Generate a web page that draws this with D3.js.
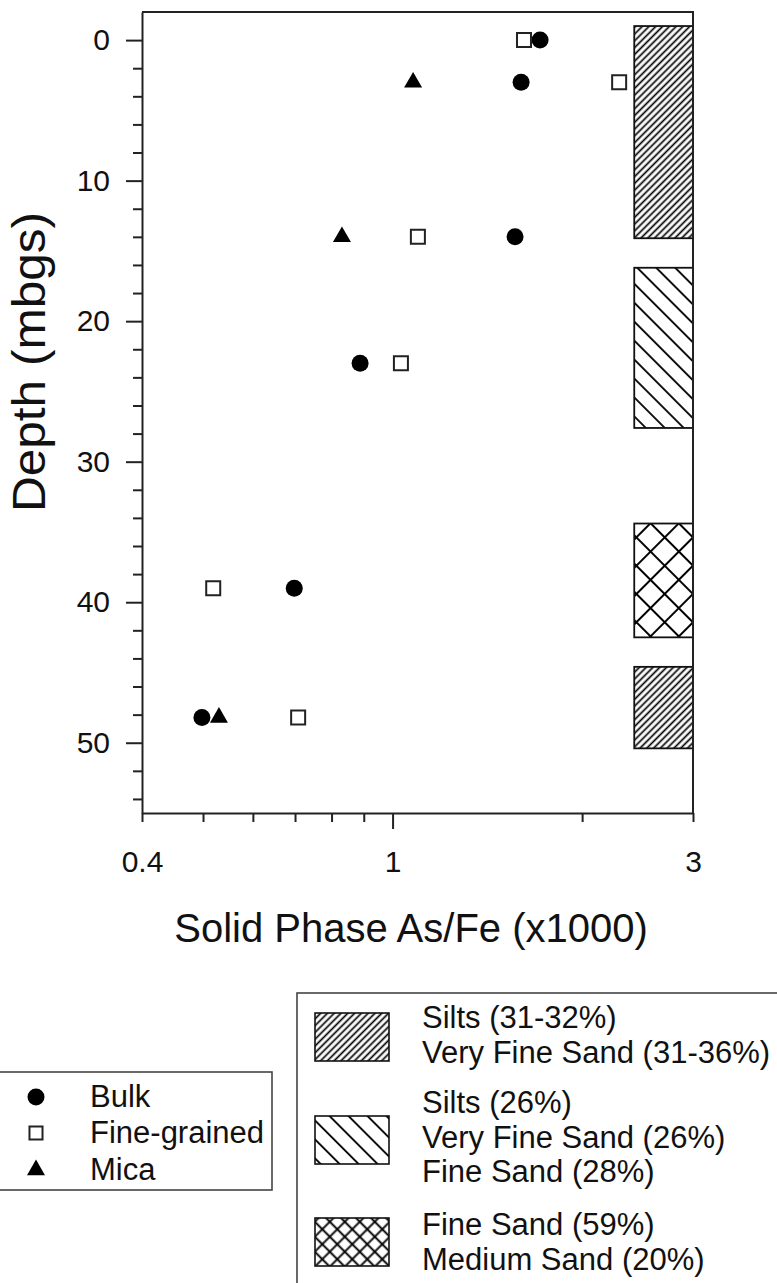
<!DOCTYPE html>
<html>
<head>
<meta charset="utf-8">
<script src="https://cdn.jsdelivr.net/npm/d3@7"></script>
<style>
  body { margin: 0; background: #fff; }
  text { font-family: "Liberation Sans", Arial, sans-serif; fill: #111; }
</style>
</head>
<body>
<svg id="chart" width="777" height="1283"></svg>
<script>
// sample depths (mbgs) and solid phase As/Fe (x1000)
var bulkDepth = [0, 3, 14, 23, 39, 48.2];
var bulkVal   = [1.715, 1.60, 1.565, 0.888, 0.698, 0.498];
var fineDepth = [0, 3, 14, 23, 39, 48.2];
var fineVal   = [1.617, 2.29, 1.097, 1.031, 0.519, 0.708];
var micaDepth = [3, 14, 48.2];
var micaVal   = [1.078, 0.831, 0.530];

// grain size layers drawn on the right
var layerTop    = [-1, 16.2, 34.4, 44.6];
var layerBottom = [14.1, 27.6, 42.5, 50.4];
var layerType   = ["a", "b", "c", "a"];
var layerStart  = 2.42;

var yMajor = [0, 10, 20, 30, 40, 50];
var yMinor = [2, 4, 6, 8, 12, 14, 16, 18, 22, 24, 26, 28, 32, 34, 36, 38, 42, 44, 46, 48, 52, 54];
var xLabels = [0.4, 1, 3];
var xShort = [0.4, 0.5, 0.6, 0.7, 0.8, 0.9, 2, 3];
var xLong = [1];

var seriesNames = ["Bulk", "Fine-grained", "Mica"];
var layerLabels = [
  ["Silts (31-32%)", "Very Fine Sand (31-36%)"],
  ["Silts (26%)", "Very Fine Sand (26%)", "Fine Sand (28%)"],
  ["Fine Sand (59%)", "Medium Sand (20%)"]
];

var svg = d3.select("#chart");
var plotLeft = 142, plotTop = 12, plotRight = 693, plotBottom = 813;

var x = d3.scaleLog().domain([0.4, 3]).range([plotLeft, plotRight]);
var y = d3.scaleLinear().domain([-2, 55]).range([plotTop, plotBottom]);

// hatch patterns
var defs = svg.append("defs");
function hatch(id, p, cross, angle, sw) {
  var pat = defs.append("pattern")
    .attr("id", id)
    .attr("patternUnits", "userSpaceOnUse")
    .attr("width", p).attr("height", p)
    .attr("patternTransform", "rotate(" + angle + ")");
  pat.append("line").attr("x1", p / 2).attr("y1", -1).attr("x2", p / 2).attr("y2", p + 1)
    .attr("stroke", "#000").attr("stroke-width", sw);
  if (cross) {
    pat.append("line").attr("x1", -1).attr("y1", p / 2).attr("x2", p + 1).attr("y2", p / 2)
      .attr("stroke", "#000").attr("stroke-width", sw);
  }
}
hatch("hatch-a", 4.8, false, 45, 1.7);
hatch("hatch-b", 13.4, false, -45, 1.8);
hatch("hatch-c", 20, true, 45, 2);
hatch("hatch-c-small", 10.6, true, 45, 1.9);

// layer bars
svg.append("g").selectAll("rect")
  .data(d3.range(layerTop.length))
  .enter().append("rect")
  .attr("x", x(layerStart))
  .attr("y", function(i) { return y(layerTop[i]); })
  .attr("width", x(3) - x(layerStart))
  .attr("height", function(i) { return y(layerBottom[i]) - y(layerTop[i]); })
  .attr("fill", function(i) { return "url(#hatch-" + layerType[i] + ")"; })
  .attr("stroke", "#111")
  .attr("stroke-width", 1.8);

// frame top and right
svg.append("path")
  .attr("d", "M" + plotLeft + "," + plotTop + "H" + plotRight + "V" + plotBottom)
  .attr("fill", "none").attr("stroke", "#222").attr("stroke-width", 2);

// y axis
var yAxis = svg.append("g").attr("transform", "translate(" + plotLeft + ",0)")
  .call(d3.axisLeft(y).tickValues(yMajor).tickSize(16).tickSizeOuter(0).tickPadding(16));
yAxis.append("g").call(d3.axisLeft(y).tickValues(yMinor).tickSize(9).tickFormat(""))
  .select(".domain").remove();
yAxis.selectAll("text").style("font-size", "30px").attr("fill", "#111");
yAxis.selectAll("line, path").attr("stroke", "#222").attr("stroke-width", 2);

// x axis
var xAxis = svg.append("g").attr("transform", "translate(0," + plotBottom + ")")
  .call(d3.axisBottom(x).tickValues(xLabels).tickSize(0).tickSizeOuter(0).tickPadding(38)
    .tickFormat(d3.format("")));
xAxis.append("g").call(d3.axisBottom(x).tickValues(xShort).tickSize(9).tickFormat(""))
  .select(".domain").remove();
xAxis.append("g").call(d3.axisBottom(x).tickValues(xLong).tickSize(16).tickFormat(""))
  .select(".domain").remove();
xAxis.selectAll("text").style("font-size", "30px").attr("fill", "#111");
xAxis.selectAll("line, path").attr("stroke", "#222").attr("stroke-width", 2);

// axis titles
svg.append("text")
  .attr("x", 411).attr("y", 942)
  .attr("text-anchor", "middle")
  .style("font-size", "40px")
  .text("Solid Phase As/Fe (x1000)");
svg.append("text")
  .attr("transform", "translate(45,362) rotate(-90)")
  .attr("text-anchor", "middle")
  .attr("textLength", 300).attr("lengthAdjust", "spacingAndGlyphs")
  .style("font-size", "46px")
  .text("Depth (mbgs)");

// markers
var circle = d3.symbol().type(d3.symbolCircle).size(227);
var square = d3.symbol().type(d3.symbolSquare).size(196);
var triangle = d3.symbol().type(d3.symbolTriangle).size(140);

var pts = svg.append("g");
pts.selectAll(".bulk").data(bulkVal).enter().append("path")
  .attr("class", "bulk")
  .attr("d", circle)
  .attr("transform", function(d, i) { return "translate(" + x(d) + "," + y(bulkDepth[i]) + ")"; })
  .attr("fill", "#000");
pts.selectAll(".fine").data(fineVal).enter().append("path")
  .attr("class", "fine")
  .attr("d", square)
  .attr("transform", function(d, i) { return "translate(" + x(d) + "," + y(fineDepth[i]) + ")"; })
  .attr("fill", "#fff").attr("stroke", "#222").attr("stroke-width", 2);
pts.selectAll(".mica").data(micaVal).enter().append("path")
  .attr("class", "mica")
  .attr("d", triangle)
  .attr("transform", function(d, i) { return "translate(" + x(d) + "," + y(micaDepth[i]) + ")"; })
  .attr("fill", "#000");

// series legend
var leg1 = svg.append("g");
leg1.append("rect").attr("x", -2).attr("y", 1072).attr("width", 274).attr("height", 118)
  .attr("fill", "none").attr("stroke", "#444").attr("stroke-width", 1.6);
var legSymbols = [circle, d3.symbol().type(d3.symbolSquare).size(170), triangle];
var legRowY = [1097, 1133, 1170];
leg1.selectAll(".sym").data(seriesNames).enter().append("path")
  .attr("class", "sym")
  .attr("d", function(d, i) { return legSymbols[i](); })
  .attr("transform", function(d, i) { return "translate(36," + legRowY[i] + ")"; })
  .attr("fill", function(d, i) { return i === 1 ? "#fff" : "#000"; })
  .attr("stroke", function(d, i) { return i === 1 ? "#222" : "none"; })
  .attr("stroke-width", 2);
leg1.selectAll(".lab").data(seriesNames).enter().append("text")
  .attr("class", "lab")
  .attr("x", 90)
  .attr("y", function(d, i) { return legRowY[i] + 10; })
  .style("font-size", "31px")
  .text(function(d) { return d; });

// layer legend
var leg2 = svg.append("g");
leg2.append("rect").attr("x", 297).attr("y", 993).attr("width", 520).attr("height", 320)
  .attr("fill", "none").attr("stroke", "#444").attr("stroke-width", 1.6);
var swatchY = [1013, 1116, 1218];
var swatchFill = ["url(#hatch-a)", "url(#hatch-b)", "url(#hatch-c-small)"];
var firstBase = [1028, 1113, 1235];
leg2.selectAll(".sw").data(layerLabels).enter().append("rect")
  .attr("class", "sw")
  .attr("x", 315).attr("y", function(d, i) { return swatchY[i]; })
  .attr("width", 74).attr("height", 48)
  .attr("fill", function(d, i) { return swatchFill[i]; })
  .attr("stroke", "#111").attr("stroke-width", 1.6);
leg2.selectAll(".grp").data(layerLabels).enter().append("text")
  .attr("class", "grp")
  .attr("x", 422)
  .attr("y", function(d, i) { return firstBase[i]; })
  .style("font-size", "31px")
  .each(function(d) {
    var t = d3.select(this);
    d.forEach(function(line, j) {
      t.append("tspan").attr("x", 422).attr("dy", j === 0 ? 0 : 34.5).text(line);
    });
  });
</script>
</body>
</html>
